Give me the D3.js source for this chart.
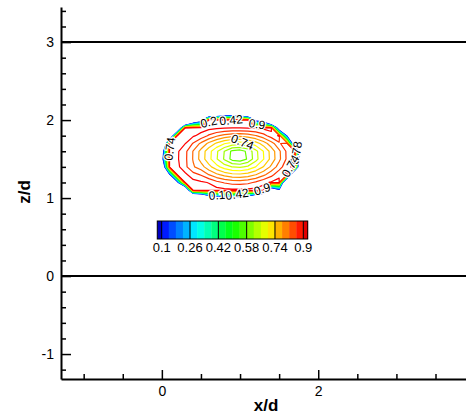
<!DOCTYPE html>
<html>
<head>
<meta charset="utf-8">
<script src="https://cdn.jsdelivr.net/npm/d3@7"></script>
<style>
  body { margin: 0; background: #fff; }
  svg { display: block; font-family: "Liberation Sans", Arial, Helvetica, sans-serif; }
</style>
</head>
<body>
<div id="chart"></div>
<script>
// ---- data ----
// grid nodes of the contour field (x/d across, z/d from top row to bottom row)
var gridX = [0.0, 0.1, 0.2, 0.3, 0.4, 0.5, 0.6, 0.7, 0.8, 0.9, 1.0, 1.1, 1.2, 1.3, 1.4, 1.5, 1.6, 1.7, 1.8];
var gridZ = [2.2, 2.1, 2.0, 1.9, 1.8, 1.7, 1.6, 1.5, 1.4, 1.3, 1.2, 1.1, 1.0];
var field = [
  [0, 0, 0, 0, 0, 0, 0, 0, 0, 0, 0, 0, 0, 0, 0, 0, 0, 0, 0],
  [0, 0, 0, 0, 0, 0, -1.2, -0.9, -0.6, -0.6, -0.7, -1.2, 0, 0, 0, 0, 0, 0, 0],
  [0, 0, 0, -1.5, -0.45, -0.12, 0.92, 0.92, 0.92, 0.92, 0.92, 0.92, 0, -0.2, -1.2, 0, 0, 0, 0],
  [0, 0, -0.7, 0.92, 0.92, 0.92, 0.913, 0.908, 0.904, 0.901, 0.901, 0.902, 0.906, 0.911, 0.918, -0.25, 0, 0, 0],
  [0, -0.6, 0.92, 0.916, 0.906, 0.887, 0.854, 0.827, 0.806, 0.794, 0.791, 0.799, 0.818, 0.845, 0.879, 0.905, 0.05, 0, 0],
  [-1.0, 0.92, 0.913, 0.901, 0.857, 0.812, 0.770, 0.733, 0.703, 0.684, 0.679, 0.692, 0.720, 0.758, 0.803, 0.851, 0.900, -0.3, 0],
  [-0.15, 0.919, 0.906, 0.870, 0.818, 0.767, 0.716, 0.667, 0.619, 0.57, 0.56, 0.59, 0.647, 0.701, 0.756, 0.812, 0.868, 0.906, -1.0],
  [-0.05, 0.919, 0.905, 0.869, 0.817, 0.765, 0.714, 0.664, 0.615, 0.565, 0.555, 0.585, 0.644, 0.698, 0.754, 0.810, 0.867, 0.906, -1.0],
  [-0.4, 0.92, 0.911, 0.870, 0.825, 0.799, 0.754, 0.714, 0.681, 0.659, 0.653, 0.668, 0.700, 0.742, 0.789, 0.839, 0.890, 0.911, -1.2],
  [0, 0.05, 0.92, 0.910, 0.875, 0.856, 0.820, 0.789, 0.766, 0.751, 0.748, 0.757, 0.779, 0.810, 0.847, 0.889, 0.909, -1.0, 0],
  [0, 0, 0, 0.92, 0.916, 0.907, 0.898, 0.873, 0.856, 0.845, 0.843, 0.850, 0.866, 0.890, 0.905, 0.914, -0.9, 0, 0],
  [0, 0, 0, -0.7, 0.92, 0.92, 0.92, 0.916, 0.912, 0.910, 0.910, 0.911, 0.914, 0.919, -0.3, 0, 0, 0, 0],
  [0, 0, 0, 0, -1.2, -0.9, -0.35, -0.12, -0.04, 0, -0.07, -0.2, -0.6, -1.2, 0, 0, 0, 0, 0]
];

// contour levels and legend labels
var levels = [0.1, 0.14, 0.18, 0.22, 0.26, 0.3, 0.34, 0.38, 0.42, 0.46, 0.5,
              0.54, 0.58, 0.62, 0.66, 0.7, 0.74, 0.78, 0.82, 0.86, 0.9];
var legendTicks = [0.1, 0.26, 0.42, 0.58, 0.74, 0.9];

// axes
var xTicks = [0, 2];
var xMinor = [-1, -0.5, 0.5, 1, 1.5, 2.5, 3, 3.5];
var yTicks = [-1, 0, 1, 2, 3];
var yMinor = [-1.2, -0.8, -0.6, -0.4, -0.2, 0.2, 0.4, 0.6, 0.8, 1.2, 1.4, 1.6, 1.8,
              2.2, 2.4, 2.6, 2.8, 3.2, 3.4];
var refLines = [0, 3];

// labels sitting on the contour lines
var labelText = ["0.2", "0.42", "0.9", "0.74", "0.74", "0.78", "0.74", "0.1", "0.42", "0.9"];
var labelX    = [0.60, 0.885, 1.217, 0.10, 1.03, 1.717, 1.645, 0.706, 0.962, 1.281];
var labelZ    = [1.974, 2.0, 1.949, 1.63, 1.718, 1.58, 1.41, 1.038, 1.051, 1.115];
var labelRot  = [-12, -5, 8, -82, 22, -80, -60, -5, -8, -18];

// ---- drawing ----
var width = 466, height = 414;

var svg = d3.select("#chart").append("svg")
  .attr("width", width)
  .attr("height", height);

var x = d3.scaleLinear().domain([-1.29, 3.89]).range([61, 466]);
var y = d3.scaleLinear().domain([-1.32, 3.45]).range([379, 7]);

var color = d3.scaleLinear()
  .domain([0.1, 0.3, 0.5, 0.7, 0.9])
  .range(["#0000ff", "#00ffff", "#00ff00", "#ffff00", "#ff0000"])
  .clamp(true);

// horizontal reference lines
svg.selectAll("line.ref")
  .data(refLines)
  .enter()
  .append("line")
  .attr("class", "ref")
  .attr("x1", x.range()[0])
  .attr("x2", x.range()[1])
  .attr("y1", d => y(d))
  .attr("y2", d => y(d))
  .attr("stroke", "#000")
  .attr("stroke-width", 2);

// contour lines
var n = gridX.length, m = gridZ.length;
var values = field.flat();
var contours = d3.contours().size([n, m]).thresholds(levels)(values);

// grid index space -> data -> pixels (node k sits at k + 0.5)
var gx = d3.scaleLinear().domain([0.5, n - 0.5]).range([gridX[0], gridX[n - 1]]);
var gz = d3.scaleLinear().domain([0.5, m - 0.5]).range([gridZ[0], gridZ[m - 1]]);
var proj = d3.geoTransform({
  point: function (px, py) {
    this.stream.point(x(gx(px)), y(gz(py)));
  }
});
var path = d3.geoPath(proj);

svg.append("g")
  .selectAll("path")
  .data(contours)
  .enter()
  .append("path")
  .attr("d", path)
  .attr("fill", "none")
  .attr("stroke", d => color(d.value))
  .attr("stroke-width", 1.2)
  .attr("stroke-linejoin", "round");

// contour labels
svg.append("g")
  .selectAll("text")
  .data(labelText)
  .enter()
  .append("text")
  .attr("transform", (d, i) => "translate(" + x(labelX[i]) + "," + y(labelZ[i]) + ") rotate(" + labelRot[i] + ")")
  .attr("text-anchor", "middle")
  .attr("dy", "0.35em")
  .attr("font-size", 12)
  .attr("fill", "#000")
  .attr("stroke", "#fff")
  .attr("stroke-width", 2.5)
  .attr("paint-order", "stroke")
  .text(d => d);

// colour legend
var lx = d3.scaleLinear().domain([0.1, 0.9]).range([161.7, 303.3]);
var legendTop = 221, legendH = 18;
var bands = [];
bands.push({ lo: 0.075, hi: levels[0], fill: "#0000c0" });
for (let i = 0; i < levels.length - 1; i++) {
  bands.push({ lo: levels[i], hi: levels[i + 1], fill: color((levels[i] + levels[i + 1]) / 2) });
}
bands.push({ lo: levels[levels.length - 1], hi: 0.925, fill: "#e00000" });

var legend = svg.append("g");
legend.selectAll("rect.band")
  .data(bands)
  .enter()
  .append("rect")
  .attr("class", "band")
  .attr("x", d => lx(d.lo))
  .attr("y", legendTop)
  .attr("width", d => lx(d.hi) - lx(d.lo) + 0.3)
  .attr("height", legendH)
  .attr("fill", d => d.fill);

legend.selectAll("line.sep")
  .data(legendTicks)
  .enter()
  .append("line")
  .attr("class", "sep")
  .attr("x1", d => lx(d))
  .attr("x2", d => lx(d))
  .attr("y1", legendTop)
  .attr("y2", legendTop + legendH)
  .attr("stroke", "#000")
  .attr("stroke-width", 1);

legend.append("rect")
  .attr("x", lx(0.075))
  .attr("y", legendTop)
  .attr("width", lx(0.925) - lx(0.075))
  .attr("height", legendH)
  .attr("fill", "none")
  .attr("stroke", "#000")
  .attr("stroke-width", 1);

legend.selectAll("text")
  .data(legendTicks)
  .enter()
  .append("text")
  .attr("x", d => lx(d))
  .attr("y", legendTop + legendH + 13)
  .attr("text-anchor", "middle")
  .attr("font-size", 13)
  .text(d => String(d));

// axes
var yAxis = svg.append("g").attr("transform", "translate(" + x.range()[0] + ",0)");
yAxis.call(d3.axisLeft(y).tickValues(yTicks).tickSize(-10).tickSizeOuter(0).tickPadding(7)
  .tickFormat(d => String(d)));
var yAxisMinor = svg.append("g").attr("transform", "translate(" + x.range()[0] + ",0)");
yAxisMinor.call(d3.axisLeft(y).tickValues(yMinor).tickSize(-5).tickFormat(""));
yAxisMinor.select(".domain").remove();

var xAxis = svg.append("g").attr("transform", "translate(0," + y.range()[0] + ")");
xAxis.call(d3.axisBottom(x).tickValues(xTicks).tickSize(-9).tickSizeOuter(0).tickPadding(7)
  .tickFormat(d => String(d)));
var xAxisMinor = svg.append("g").attr("transform", "translate(0," + y.range()[0] + ")");
xAxisMinor.call(d3.axisBottom(x).tickValues(xMinor).tickSize(-5).tickFormat(""));
xAxisMinor.select(".domain").remove();

svg.selectAll(".domain").attr("stroke-width", 2);
svg.selectAll(".tick line").attr("stroke-width", 1.5);
svg.selectAll(".tick text")
  .attr("font-family", "'Liberation Sans', Arial, sans-serif")
  .attr("font-size", 14)
  .attr("fill", "#000");

// axis titles
svg.append("text")
  .attr("x", 266)
  .attr("y", 411)
  .attr("text-anchor", "middle")
  .attr("font-size", 17)
  .attr("font-weight", "bold")
  .text("x/d");

svg.append("text")
  .attr("transform", "translate(30,192) rotate(-90)")
  .attr("text-anchor", "middle")
  .attr("font-size", 17)
  .attr("font-weight", "bold")
  .text("z/d");
</script>
</body>
</html>
